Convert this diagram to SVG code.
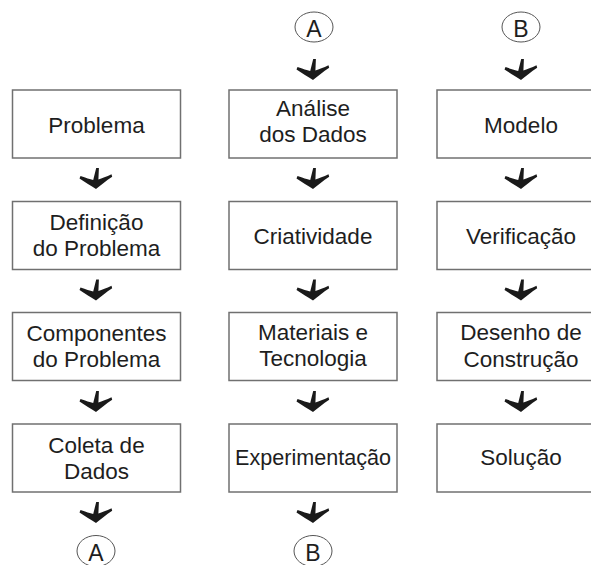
<svg xmlns="http://www.w3.org/2000/svg" xmlns:xlink="http://www.w3.org/1999/xlink" width="591" height="565" viewBox="0 0 591 565">
<style>
.box{fill:#ffffff;stroke:#707070;stroke-width:1.5}
.t{font-family:"Liberation Sans",Arial,sans-serif;font-size:22.5px;fill:#1e1e1e;text-anchor:middle}
.c{fill:none;stroke:#555555;stroke-width:1}
.ct{font-family:"Liberation Sans",Arial,sans-serif;font-size:23px;fill:#1e1e1e;text-anchor:middle}
.foot{fill:#1a1a1a}
</style>
<defs>
<path id="foot" class="foot" d="M0,0 C-5,-3 -11,-7 -16.5,-10.5 L-15.5,-13 C-10,-11 -6,-9.8 -2.8,-9 L0.2,-21 L2.9,-21 L2.4,-9.5 C6,-10.8 10.5,-12.3 15.5,-14.8 L16.2,-12.2 C10,-8 5,-4 0,0 Z"/>
</defs>
<rect width="591" height="565" fill="#ffffff"/>
<g id="connectors">
<use xlink:href="#foot" x="96" y="189"/>
<use xlink:href="#foot" x="96" y="300.5"/>
<use xlink:href="#foot" x="96" y="412"/>
<use xlink:href="#foot" x="96" y="523"/>
<use xlink:href="#foot" x="313" y="80"/>
<use xlink:href="#foot" x="313" y="189"/>
<use xlink:href="#foot" x="313" y="300.5"/>
<use xlink:href="#foot" x="313" y="412"/>
<use xlink:href="#foot" x="313" y="523"/>
<use xlink:href="#foot" x="521" y="80"/>
<use xlink:href="#foot" x="521" y="189"/>
<use xlink:href="#foot" x="521" y="300.5"/>
<use xlink:href="#foot" x="521" y="412"/>
</g>
<g id="connA-top"><ellipse class="c" cx="314" cy="27" rx="19" ry="15"/><text class="ct" x="314" y="36.5">A</text></g>
<g id="connB-top"><ellipse class="c" cx="521" cy="27" rx="19" ry="15"/><text class="ct" x="521" y="36.5">B</text></g>
<g id="connA-bottom"><ellipse class="c" cx="96" cy="551" rx="19" ry="15.5"/><text class="ct" x="96" y="560.5">A</text></g>
<g id="connB-bottom"><ellipse class="c" cx="313" cy="551" rx="19" ry="15.5"/><text class="ct" x="313" y="560.5">B</text></g>

<g id="problema"><rect class="box" x="12.5" y="90" width="168" height="68"/><text class="t" x="96.5" y="132.5">Problema</text></g>
<g id="definicao"><rect class="box" x="12.5" y="201.5" width="168" height="68"/><text class="t" x="96.5" y="229.5">Definição</text><text class="t" x="96.5" y="256">do Problema</text></g>
<g id="componentes"><rect class="box" x="12.5" y="312.5" width="168" height="68"/><text class="t" x="96.5" y="340.5">Componentes</text><text class="t" x="96.5" y="367">do Problema</text></g>
<g id="coleta"><rect class="box" x="12.5" y="424" width="168" height="68"/><text class="t" x="96.5" y="453">Coleta de</text><text class="t" x="96.5" y="479">Dados</text></g>

<g id="analise"><rect class="box" x="229" y="90" width="168" height="68"/><text class="t" x="313" y="116">Análise</text><text class="t" x="313" y="142">dos Dados</text></g>
<g id="criatividade"><rect class="box" x="229" y="201.5" width="168" height="68"/><text class="t" x="313" y="244">Criatividade</text></g>
<g id="materiais"><rect class="box" x="229" y="312.5" width="168" height="68"/><text class="t" x="313" y="340">Materiais e</text><text class="t" x="313" y="366">Tecnologia</text></g>
<g id="experimentacao"><rect class="box" x="229" y="424" width="168" height="68"/><text class="t" x="313" y="465" textLength="156" lengthAdjust="spacingAndGlyphs">Experimentação</text></g>

<g id="modelo"><rect class="box" x="437" y="90" width="168" height="68"/><text class="t" x="521" y="132.5">Modelo</text></g>
<g id="verificacao"><rect class="box" x="437" y="201.5" width="168" height="68"/><text class="t" x="521" y="244">Verificação</text></g>
<g id="desenho"><rect class="box" x="437" y="312.5" width="168" height="68"/><text class="t" x="521" y="340">Desenho de</text><text class="t" x="521" y="366.5">Construção</text></g>
<g id="solucao"><rect class="box" x="437" y="424" width="168" height="68"/><text class="t" x="521" y="465">Solução</text></g>
</svg>
